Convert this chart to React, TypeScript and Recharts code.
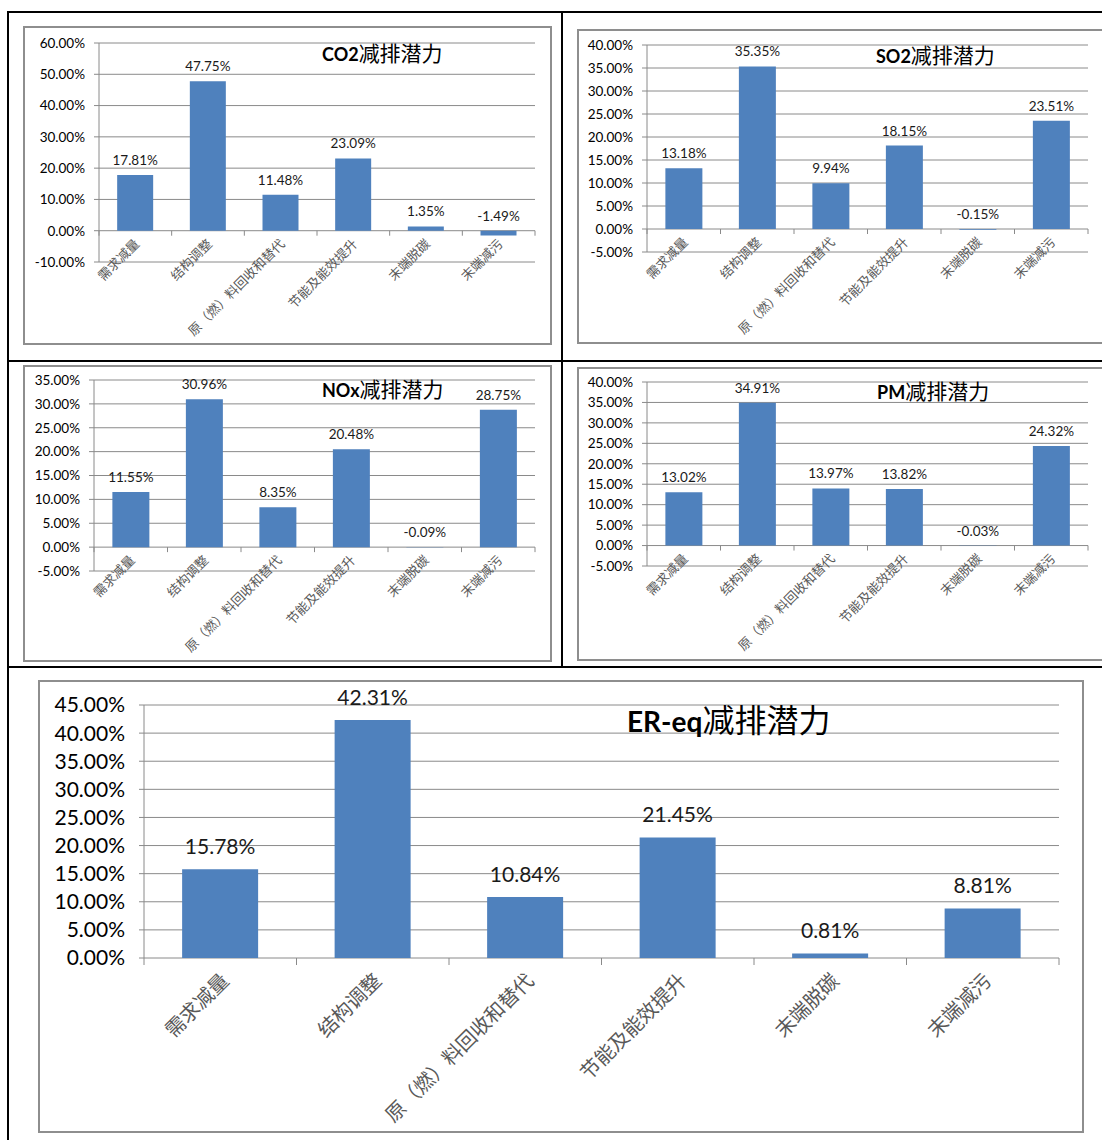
import React from 'react'
import { BarChart, Bar, XAxis, YAxis, CartesianGrid } from 'recharts'

const categories = ['需求减量', '结构调整', '原（燃）料回收和替代', '节能及能效提升', '末端脱碳', '末端减污']

const co2Values = [17.81, 47.75, 11.48, 23.09, 1.35, -1.49]
const so2Values = [13.18, 35.35, 9.94, 18.15, -0.15, 23.51]
const noxValues = [11.55, 30.96, 8.35, 20.48, -0.09, 28.75]
const pmValues = [13.02, 34.91, 13.97, 13.82, -0.03, 24.32]
const ereqValues = [15.78, 42.31, 10.84, 21.45, 0.81, 8.81]

const co2Ticks = [-10, 0, 10, 20, 30, 40, 50, 60]
const so2Ticks = [-5, 0, 5, 10, 15, 20, 25, 30, 35, 40]
const noxTicks = [-5, 0, 5, 10, 15, 20, 25, 30, 35]
const pmTicks = [-5, 0, 5, 10, 15, 20, 25, 30, 35, 40]
const ereqTicks = [0, 5, 10, 15, 20, 25, 30, 35, 40, 45]

const BAR = '#4F81BD'
const GRID = '#8a8a8a'
const NUM_FONT = 'Lato, "Noto Sans", sans-serif'
const CJK_FONT = '"Noto Sans CJK SC", sans-serif'

const pct = (v: number) => v.toFixed(2) + '%'

type Box = { x: number; y: number; w: number; h: number }
type Plot = { l: number; t: number; r: number; b: number }
type Sizes = {
    tick: number
    tickMargin: number
    label: number
    labelGap: number
    cat: number
    catDx: number
    catDy: number
    tickLen: number
    latin: number
    cjk: number
}

const small: Sizes = { tick: 13.5, tickMargin: 9, label: 13.5, labelGap: 10, cat: 13, catDx: 5, catDy: 14, tickLen: 5, latin: 18, cjk: 21 }
const large: Sizes = { tick: 21, tickMargin: 14, label: 21, labelGap: 15, cat: 20, catDx: 10, catDy: 24, tickLen: 7, latin: 28, cjk: 32 }

interface PanelProps {
    latin: string
    cjk: string
    values: number[]
    ticks: number[]
    box: Box
    plot: Plot
    titleX: number
    titleY: number
    s: Sizes
}

function Panel({ latin, cjk, values, ticks, box, plot, titleX, titleY, s }: PanelProps) {
    const data = categories.map((name, i) => ({ name, value: values[i] }))
    const min = ticks[0]
    const max = ticks[ticks.length - 1]
    const plotTop = plot.t - box.y
    const plotH = plot.b - plot.t
    const zeroY = plotTop + (plotH * max) / (max - min)
    const band = (plot.r - plot.l) / categories.length

    const renderTick = (props: any) => {
        const { x, index, payload } = props
        return (
            <g>
                <line x1={x - band / 2} x2={x - band / 2} y1={zeroY} y2={zeroY + s.tickLen} stroke={GRID} />
                {index === categories.length - 1 && (
                    <line x1={x + band / 2} x2={x + band / 2} y1={zeroY} y2={zeroY + s.tickLen} stroke={GRID} />
                )}
                <text
                    x={x + s.catDx}
                    y={zeroY + s.catDy}
                    textAnchor="end"
                    transform={`rotate(-45 ${x + s.catDx} ${zeroY + s.catDy})`}
                    fill="#595959"
                    fontSize={s.cat}
                    fontFamily={CJK_FONT}
                >
                    {payload.value}
                </text>
            </g>
        )
    }

    const renderLabel = (props: any) => {
        const { x, y, width, height, value } = props
        const top = Math.min(y, y + height)
        return (
            <text
                x={x + width / 2}
                y={top - s.labelGap}
                textAnchor="middle"
                fill="#1a1a1a"
                fontSize={s.label}
                fontFamily={NUM_FONT}
            >
                {pct(value)}
            </text>
        )
    }

    return (
        <>
            <div
                style={{
                    position: 'absolute',
                    left: box.x,
                    top: box.y,
                    width: box.w,
                    height: box.h,
                    border: '2px solid #8e8e8e',
                    boxSizing: 'border-box',
                }}
            />
            <div style={{ position: 'absolute', left: box.x, top: box.y }}>
                <BarChart
                    width={box.w}
                    height={box.h}
                    data={data}
                    margin={{ top: plotTop, right: box.x + box.w - plot.r, bottom: 0, left: 0 }}
                    barCategoryGap="25%"
                >
                    <CartesianGrid vertical={false} stroke={GRID} />
                    <XAxis
                        dataKey="name"
                        interval={0}
                        tickLine={false}
                        axisLine={false}
                        height={box.y + box.h - plot.b}
                        tick={renderTick}
                    />
                    <YAxis
                        width={plot.l - box.x}
                        domain={[min, max]}
                        ticks={ticks}
                        interval={0}
                        allowDataOverflow
                        tickFormatter={pct}
                        stroke={GRID}
                        tickSize={5}
                        tickMargin={s.tickMargin}
                        tick={{ fill: '#000', fontSize: s.tick, fontFamily: NUM_FONT }}
                    />
                    <Bar dataKey="value" fill={BAR} isAnimationActive={false} label={renderLabel} />
                </BarChart>
            </div>
            <div
                style={{
                    position: 'absolute',
                    left: titleX,
                    top: titleY - s.cjk / 2,
                    lineHeight: `${s.cjk}px`,
                    whiteSpace: 'nowrap',
                    color: '#000',
                }}
            >
                <span style={{ fontFamily: NUM_FONT, fontWeight: 700, fontSize: s.latin }}>{latin}</span>
                <span style={{ fontFamily: CJK_FONT, fontSize: s.cjk }}>{cjk}</span>
            </div>
        </>
    )
}

const line = (left: number, top: number, width: number, height: number) => (
    <div style={{ position: 'absolute', left, top, width, height, background: '#000' }} />
)

export default function App() {
    return (
        <div
            style={{
                position: 'absolute',
                left: 0,
                top: 0,
                width: 1102,
                height: 1140,
                overflow: 'hidden',
                background: '#fff',
            }}
        >
            {line(7, 11, 1100, 2)}
            {line(7, 11, 2, 1130)}
            {line(561, 11, 2, 656)}
            {line(7, 360, 1100, 2)}
            {line(7, 666, 1100, 2)}

            <Panel latin="CO2" cjk="减排潜力" values={co2Values} ticks={co2Ticks}
                box={{ x: 23, y: 26, w: 529, h: 319 }} plot={{ l: 99, t: 43, r: 535, b: 262 }}
                titleX={322} titleY={52} s={small} />
            <Panel latin="SO2" cjk="减排潜力" values={so2Values} ticks={so2Ticks}
                box={{ x: 577, y: 29, w: 540, h: 315 }} plot={{ l: 647, t: 45, r: 1088, b: 252 }}
                titleX={876} titleY={54} s={small} />
            <Panel latin="NOx" cjk="减排潜力" values={noxValues} ticks={noxTicks}
                box={{ x: 23, y: 365, w: 529, h: 297 }} plot={{ l: 94, t: 380, r: 535, b: 571 }}
                titleX={322} titleY={388} s={small} />
            <Panel latin="PM" cjk="减排潜力" values={pmValues} ticks={pmTicks}
                box={{ x: 577, y: 367, w: 540, h: 294 }} plot={{ l: 647, t: 382, r: 1088, b: 566 }}
                titleX={877} titleY={390} s={small} />
            <Panel latin="ER-eq" cjk="减排潜力" values={ereqValues} ticks={ereqTicks}
                box={{ x: 38, y: 680, w: 1046, h: 453 }} plot={{ l: 144, t: 705, r: 1059, b: 958 }}
                titleX={627} titleY={718} s={large} />
        </div>
    )
}
